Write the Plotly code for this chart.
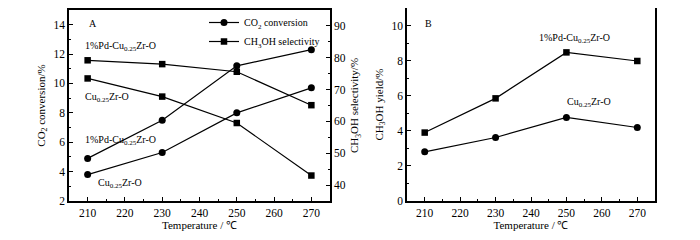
import plotly.graph_objects as go

temps = [210, 230, 250, 270]
# Panel A
conv_pd = [4.9, 7.5, 11.2, 12.3]
conv_cu = [3.8, 5.3, 8.0, 9.7]
sel_pd = [79.2, 78.0, 75.6, 65.1]
sel_cu = [73.5, 67.8, 59.5, 43.0]
# Panel B
yield_pd = [3.9, 5.85, 8.47, 7.98]
yield_cu = [2.8, 3.62, 4.76, 4.19]

FONT = "Liberation Serif"
BLACK = "#000000"
line = dict(color=BLACK, width=1.2)
W, H = 700, 240
OFF = 8  # page body margin


def px(x):
    return min(1.0, max(0.0, (x - OFF) / W))


def py(y):
    return min(1.0, max(0.0, 1 - (y - OFF) / H))


fig = go.Figure()
fig.add_trace(go.Scatter(x=temps, y=conv_pd, mode="lines+markers", line=line,
                         marker=dict(symbol="circle", size=7, color=BLACK),
                         name="CO<sub>2</sub> conversion", showlegend=True,
                         xaxis="x", yaxis="y"))
fig.add_trace(go.Scatter(x=temps, y=conv_cu, mode="lines+markers", line=line,
                         marker=dict(symbol="circle", size=7, color=BLACK),
                         name="Cu conv", showlegend=False, xaxis="x", yaxis="y"))
fig.add_trace(go.Scatter(x=temps, y=sel_pd, mode="lines+markers", line=line,
                         marker=dict(symbol="square", size=6.5, color=BLACK),
                         name="CH<sub>3</sub>OH selectivity", showlegend=True,
                         xaxis="x", yaxis="y2"))
fig.add_trace(go.Scatter(x=temps, y=sel_cu, mode="lines+markers", line=line,
                         marker=dict(symbol="square", size=6.5, color=BLACK),
                         name="Cu sel", showlegend=False, xaxis="x", yaxis="y2"))
fig.add_trace(go.Scatter(x=temps, y=yield_pd, mode="lines+markers", line=line,
                         marker=dict(symbol="square", size=6.5, color=BLACK),
                         name="Pd yield", showlegend=False, xaxis="x2", yaxis="y3"))
fig.add_trace(go.Scatter(x=temps, y=yield_cu, mode="lines+markers", line=line,
                         marker=dict(symbol="circle", size=7, color=BLACK),
                         name="Cu yield", showlegend=False, xaxis="x2", yaxis="y3"))

tickfont = dict(family=FONT, size=11.5, color=BLACK)
common = dict(showline=True, linecolor=BLACK, linewidth=1.5, ticks="inside",
              ticklen=4, tickwidth=1, tickcolor=BLACK, showgrid=False,
              zeroline=False, tickfont=tickfont, automargin=False)
minor_common = dict(ticks="inside", ticklen=2, tickcolor=BLACK, showgrid=False)

ydom = [py(201), py(10)]
ydomB = [py(201), py(8)]
tfont = dict(family=FONT, size=11, color=BLACK)

fig.update_layout(
    width=W, height=H,
    margin=dict(l=0, r=0, t=0, b=0),
    paper_bgcolor="white", plot_bgcolor="white",
    font=dict(family=FONT, size=11, color=BLACK),
    xaxis=dict(domain=[px(69), px(330)], range=[205, 275], dtick=10, tick0=210,
               mirror=True, anchor="y",
               minor=dict(dtick=5, tick0=205, **minor_common),
               title=dict(text="Temperature / ℃", font=tfont, standoff=2),
               **common),
    yaxis=dict(domain=ydom, range=[2, 15], dtick=2, tick0=2, anchor="x",
               minor=dict(dtick=1, tick0=1, **minor_common),
               title=dict(text="CO<sub>2</sub> conversion/%", font=tfont, standoff=6),
               **common),
    yaxis2=dict(domain=ydom, range=[35, 95], dtick=10, tick0=40, anchor="x",
                overlaying="y", side="right",
                minor=dict(dtick=5, tick0=35, **minor_common),
                title=dict(text="CH<sub>3</sub>OH selectivity/%", font=tfont, standoff=6),
                **common),
    xaxis2=dict(domain=[px(407), px(655)], range=[205, 275], dtick=10, tick0=210,
                mirror=True, anchor="y3",
                minor=dict(dtick=5, tick0=205, **minor_common),
                title=dict(text="Temperature / ℃", font=tfont, standoff=2),
                **common),
    yaxis3=dict(domain=ydomB, range=[0, 11], dtick=2, tick0=0, anchor="x2", mirror=True,
                minor=dict(dtick=1, tick0=1, **minor_common),
                title=dict(text="CH<sub>3</sub>OH yield/%", font=tfont, standoff=6),
                **common),
    legend=dict(x=px(204), y=py(8), xanchor="left", yanchor="top",
                bgcolor="rgba(0,0,0,0)", font=dict(family=FONT, size=10),
                itemwidth=30, tracegroupgap=0),
)

ann_font = dict(family=FONT, size=10, color=BLACK)
labels = [
    (87, 23, "A"),
    (83, 47, "1%Pd-Cu<sub>0.25</sub>Zr-O"),
    (83, 97, "Cu<sub>0.25</sub>Zr-O"),
    (83, 140, "1%Pd-Cu<sub>0.25</sub>Zr-O"),
    (96, 183, "Cu<sub>0.25</sub>Zr-O"),
    (423, 23, "B"),
    (537, 39, "1%Pd-Cu<sub>0.25</sub>Zr-O"),
    (565, 103, "Cu<sub>0.25</sub>Zr-O"),
]
for lx, ly, txt in labels:
    fig.add_annotation(x=px(lx), y=py(ly), xref="paper", yref="paper",
                       text=txt, showarrow=False, xanchor="left", yanchor="middle",
                       font=ann_font)

fig.write_html("out.html")
